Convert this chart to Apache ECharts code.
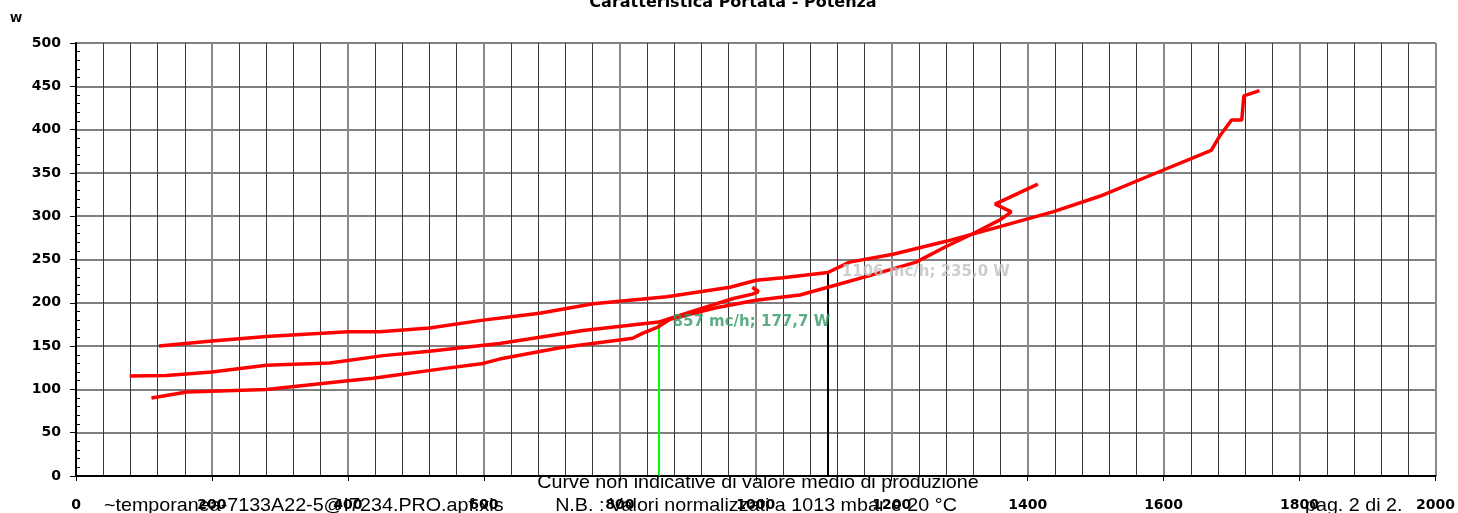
<!DOCTYPE html>
<html>
<head>
<meta charset="utf-8">
<script src="https://cdn.jsdelivr.net/npm/echarts@6/dist/echarts.min.js"></script>
<style>
html,body{margin:0;padding:0;background:#fff;}
#chart{width:1458px;height:513px;}
</style>
</head>
<body>
<div id="chart"></div>
<script>
// Curve A (top, long)
var curveA_x = [122, 200, 280, 400, 447, 520, 599, 640, 682, 761, 869, 962, 1001, 1040, 1106, 1138, 1202, 1280, 1359, 1437, 1506, 1580, 1670, 1682, 1700, 1715, 1718, 1741];
var curveA_y = [150, 156, 161, 166.5, 166.5, 171, 180, 184, 188, 199, 207, 218, 226, 229, 235, 247, 256, 271, 288, 305, 323, 347, 376, 392, 411, 411, 439, 445];
// Curve B (middle, ends with hook)
var curveB_x = [79, 133, 200, 280, 373, 452, 520, 623, 746, 857, 874, 918, 967, 995, 1004, 995];
var curveB_y = [115.5, 116, 120, 128, 130.5, 139, 144, 153, 168, 177.7, 182, 193, 205, 210, 213, 218];
// Curve C (lower, ends with zigzag)
var curveC_x = [111, 163, 280, 400, 437, 540, 599, 623, 712, 819, 834, 856, 874, 940, 1000, 1065, 1106, 1170, 1236, 1280, 1320, 1360, 1376, 1352, 1415];
var curveC_y = [90, 97, 100, 110, 113, 124, 130, 135, 148, 159, 165, 172, 181, 194, 203, 209, 218, 232, 247, 265, 280, 296, 305, 314, 337];

var markGreen = [857, 177.7];
var markBlack = [1106, 235.0];
var markGreenLabel = '857 mc/h; 177,7 W';
var markBlackLabel = '1106 mc/h; 235,0 W';

var titleText = 'Caratteristica Portata - Potenza';
var yUnit = 'W';
var noteLine1 = 'Curve non indicative di valore medio di produzione';
var noteLine2 = 'N.B. : Valori normalizzati a 1013 mbar e 20 °C';
var fileText = '~temporanea-7133A22-5@I7234.PRO.apf.xls';
var pageText = 'pag. 2 di 2.';

function pairs(xs, ys) { return xs.map(function (x, i) { return [x, ys[i]]; }); }

var FONT = '"Liberation Sans", Arial, sans-serif';
var BFONT = '"DejaVu Sans", "Liberation Sans", sans-serif';
var chart = echarts.init(document.getElementById('chart'), null, {renderer: 'canvas'});

var lineStyleRed = {color: '#ff0000', width: 3.5};
function curve(xs, ys) {
  return {
    type: 'line', data: pairs(xs, ys), symbol: 'none', smooth: false,
    lineStyle: lineStyleRed, itemStyle: {color: '#ff0000'}, z: 5, animation: false
  };
}
function note(text, x, y, align, sx) {
  return {type: 'text', z: 10, x: x, y: y, scaleX: sx,
    style: {text: text, x: 0, y: 0, align: align, verticalAlign: 'middle', fontFamily: FONT, fontSize: 18.5, fill: '#000'}};
}

var option = {
  animation: false,
  backgroundColor: '#ffffff',
  grid: {left: 76, right: 22, top: 43, bottom: 37, containLabel: false},
  xAxis: {
    type: 'value', min: 0, max: 2000, interval: 200,
    axisLine: {show: true, onZero: false, lineStyle: {color: '#000', width: 2}},
    axisTick: {show: true, length: 5, lineStyle: {color: '#000', width: 1}},
    minorTick: {show: false, splitNumber: 5},
    minorSplitLine: {show: true, lineStyle: {color: '#3a3a3a', width: 1}},
    splitLine: {show: true, lineStyle: {color: '#8a8a8a', width: 2}},
    axisLabel: {color: '#000', fontFamily: BFONT, fontWeight: 'bold', fontSize: 14, margin: 22,
      formatter: function (v) { return String(v); }}
  },
  yAxis: [{
    type: 'value', min: 0, max: 500, interval: 50,
    axisLine: {show: true, onZero: false, lineStyle: {color: '#000', width: 2}},
    axisTick: {show: true, length: 6, lineStyle: {color: '#000', width: 1}},
    minorTick: {show: false},
    splitLine: {show: true, lineStyle: {color: '#808080', width: 2}},
    axisLabel: {color: '#000', fontFamily: BFONT, fontWeight: 'bold', fontSize: 14, margin: 15,
      formatter: function (v) { return String(v); }}
  }, {
    type: 'value', min: 0, max: 500, interval: 50, position: 'left',
    axisLine: {show: false},
    axisTick: {show: false, inside: true},
    minorTick: {show: true, splitNumber: 5, length: 4, lineStyle: {color: '#000', width: 1}},
    splitLine: {show: false},
    axisLabel: {show: false}
  }],
  graphic: [
    {type: 'text', x: 733, y: 3, style: {text: titleText, x: 0, y: 0, align: 'center', verticalAlign: 'middle', fontFamily: BFONT, fontWeight: 'bold', fontSize: 16, fill: '#000'}},
    {type: 'text', x: 16, y: 19, style: {text: yUnit, x: 0, y: 0, align: 'center', verticalAlign: 'middle', fontFamily: BFONT, fontWeight: 'bold', fontSize: 11, fill: '#000'}},
    note(noteLine1, 758, 483, 'center', 1.065),
    note(noteLine2, 756, 506, 'center', 1.065),
    note(fileText, 104, 506, 'left', 1.065),
    note(pageText, 1305, 506, 'left', 1.065)
  ],
  series: [
    curve(curveA_x, curveA_y),
    curve(curveB_x, curveB_y),
    curve(curveC_x, curveC_y),
    {
      type: 'line', data: [], symbol: 'none', z: 4,
      markLine: {
        symbol: 'none', silent: true, animation: false,
        label: {show: false},
        data: [
          [{coord: [markGreen[0], 0], lineStyle: {color: '#00ff00', width: 2, type: 'solid'}}, {coord: [markGreen[0], markGreen[1]]}],
          [{coord: [markBlack[0], 0], lineStyle: {color: '#000000', width: 2, type: 'solid'}}, {coord: [markBlack[0], markBlack[1]]}]
        ]
      }
    },
    {
      type: 'scatter', symbolSize: 0, z: 6, silent: true,
      data: [
        {value: markGreen, label: {show: true, formatter: markGreenLabel, position: 'right', distance: 14, color: '#339966', fontFamily: BFONT, fontWeight: 'bold', fontSize: 15}},
        {value: markBlack, label: {show: true, formatter: markBlackLabel, position: 'right', distance: 14, color: '#c0c0c0', fontFamily: BFONT, fontWeight: 'bold', fontSize: 15}}
      ]
    }
  ]
};
chart.setOption(option);
</script>
</body>
</html>
